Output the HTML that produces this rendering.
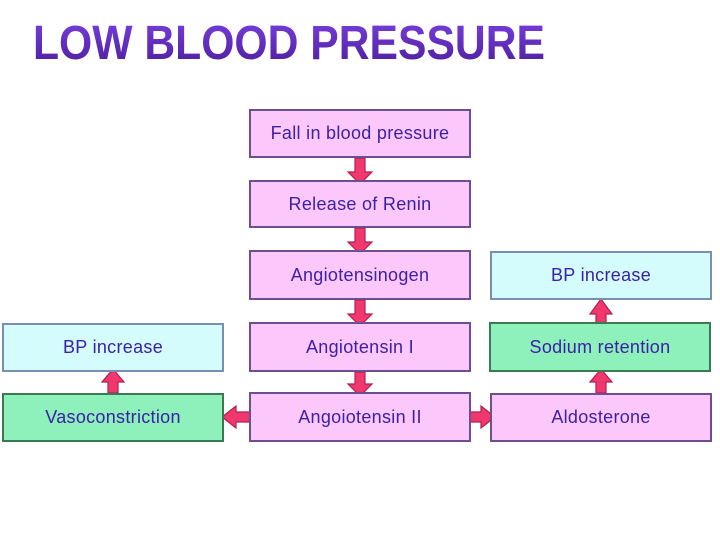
<!DOCTYPE html>
<html><head><style>
body{margin:0;background:#fff;width:720px;height:540px;overflow:hidden;position:relative;font-family:"Liberation Sans",sans-serif}
.b{position:absolute;box-sizing:border-box;border:2px solid #6e4f8e;display:flex;align-items:center;justify-content:center;color:#3b20a8;font-size:18px;letter-spacing:0.3px}
.p{background:#fcc8fc}
.c{background:#d4fcfc;border-color:#7a8fb0}
.g{background:#8ef0ba;border-color:#3a7a50}
</style></head><body>
<svg width="720" height="540" style="position:absolute;left:0;top:0">
<defs><linearGradient id="t" x1="0" y1="0" x2="0" y2="1"><stop offset="0" stop-color="#7a3fe0"/><stop offset="1" stop-color="#4a1d9a"/></linearGradient></defs>
<text x="33" y="59" font-family="Liberation Sans" font-weight="bold" font-size="48" fill="url(#t)" textLength="512" lengthAdjust="spacingAndGlyphs">LOW BLOOD PRESSURE</text>
<g fill="#f0386e" stroke="#b02050" stroke-width="1.2">
<polygon points="355,158 365,158 365,172 372,172 360,184 348,172 355,172"/>
<polygon points="355,228 365,228 365,242 372,242 360,254 348,242 355,242"/>
<polygon points="355,300 365,300 365,314 372,314 360,326 348,314 355,314"/>
<polygon points="355,372 365,372 365,384 372,384 360,396 348,384 355,384"/>
<polygon points="253,412 253,422 236,422 236,428 222,417 236,406 236,412"/>
<polygon points="464,412 464,422 481,422 481,428 495,417 481,406 481,412"/>
<polygon points="108,393 118,393 118,382 124,382 113,369 102,382 108,382"/>
<polygon points="596,393 606,393 606,382 612,382 601,369 590,382 596,382"/>
<polygon points="596,325 606,325 606,314 612,314 601,299 590,314 596,314"/>
</g>
</svg>
<div class="b p" style="left:249px;top:109px;width:222px;height:49px">Fall in blood pressure</div>
<div class="b p" style="left:249px;top:180px;width:222px;height:48px">Release of Renin</div>
<div class="b p" style="left:249px;top:250px;width:222px;height:50px">Angiotensinogen</div>
<div class="b p" style="left:249px;top:322px;width:222px;height:50px">Angiotensin I</div>
<div class="b p" style="left:249px;top:392px;width:222px;height:50px">Angoiotensin II</div>
<div class="b c" style="left:2px;top:323px;width:222px;height:49px">BP increase</div>
<div class="b g" style="left:2px;top:393px;width:222px;height:49px">Vasoconstriction</div>
<div class="b c" style="left:490px;top:251px;width:222px;height:49px">BP increase</div>
<div class="b g" style="left:489px;top:322px;width:222px;height:50px">Sodium retention</div>
<div class="b p" style="left:490px;top:393px;width:222px;height:49px">Aldosterone</div>
</body></html>
